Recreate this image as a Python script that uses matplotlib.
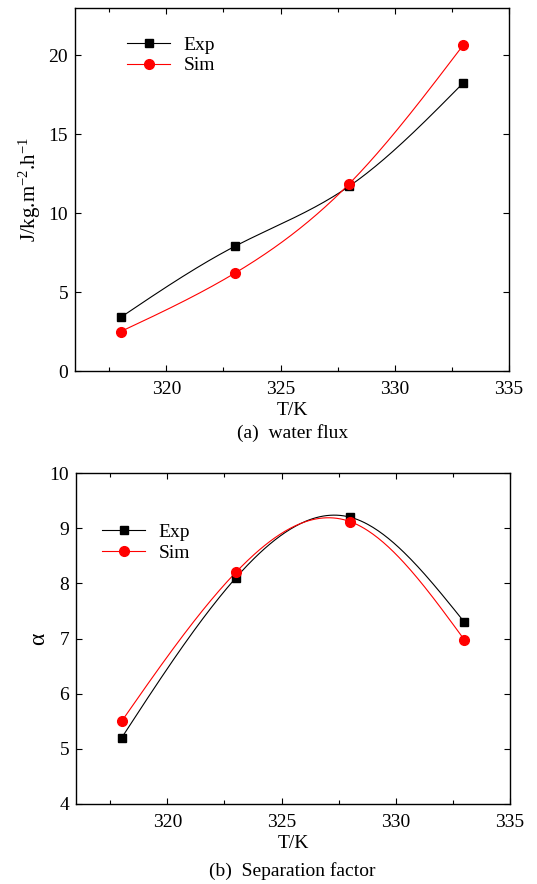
import numpy as np
import matplotlib
matplotlib.use('Agg')
import matplotlib.pyplot as plt

plt.rcParams['font.family'] = ['Liberation Serif', 'DejaVu Serif']
plt.rcParams['mathtext.fontset'] = 'custom'
plt.rcParams['mathtext.rm'] = 'Liberation Serif'
plt.rcParams['mathtext.it'] = 'Liberation Serif:italic'
plt.rcParams['font.size'] = 14

T = [318, 323, 328, 333]
flux_exp = [3.4, 7.9, 11.7, 18.25]
flux_sim = [2.5, 6.2, 11.85, 20.65]
alpha_exp = [5.2, 8.1, 9.2, 7.3]
alpha_sim = [5.5, 8.2, 9.12, 6.98]


def spline(x, y, n=200):
    # natural cubic spline, for the smooth connecting line
    x = np.asarray(x, float)
    y = np.asarray(y, float)
    k = len(x)
    h = np.diff(x)
    A = np.zeros((k, k))
    b = np.zeros(k)
    A[0, 0] = A[-1, -1] = 1
    for i in range(1, k - 1):
        A[i, i - 1] = h[i - 1]
        A[i, i] = 2 * (h[i - 1] + h[i])
        A[i, i + 1] = h[i]
        b[i] = 6 * ((y[i + 1] - y[i]) / h[i] - (y[i] - y[i - 1]) / h[i - 1])
    M = np.linalg.solve(A, b)
    xs = np.linspace(x[0], x[-1], n)
    ys = np.empty_like(xs)
    for j, xv in enumerate(xs):
        i = min(np.searchsorted(x, xv) - 1, k - 2)
        i = max(i, 0)
        t1 = x[i + 1] - xv
        t0 = xv - x[i]
        ys[j] = (M[i] * t1 ** 3 + M[i + 1] * t0 ** 3) / (6 * h[i]) \
            + (y[i] / h[i] - M[i] * h[i] / 6) * t1 \
            + (y[i + 1] / h[i] - M[i + 1] * h[i] / 6) * t0
    return xs, ys


def style(ax):
    ax.set_xlim(316, 335)
    ax.set_xticks([320, 325, 330, 335])
    ax.set_xticks([317.5, 322.5, 327.5, 332.5], minor=True)
    ax.tick_params(which='both', direction='in', labelsize=14)
    ax.tick_params(which='major', length=4, width=0.8)
    ax.tick_params(which='minor', length=3, width=0.8)
    ax.tick_params(which='both', top=True, right=True)
    ax.tick_params(axis='x', which='major', pad=7)
    ax.tick_params(axis='y', which='major', pad=5)
    for s in ax.spines.values():
        s.set_linewidth(1.0)
    ax.set_xlabel('T/K', fontsize=14, labelpad=3)


fig = plt.figure(figsize=(5.37, 8.84), dpi=100)

ax1 = fig.add_axes([0.1397, 0.5803, 0.808, 0.4107])
xs, ys = spline(T, flux_exp)
ax1.plot(xs, ys, color='black', lw=0.8)
xs, ys = spline(T, flux_sim)
ax1.plot(xs, ys, color='red', lw=0.8)
ax1.plot(T, flux_exp, 's', color='black', ms=6)
ax1.plot(T, flux_sim, 'o', color='red', ms=7)
ax1.plot([], [], '-s', color='black', ms=6, lw=0.8, label='Exp')
ax1.plot([], [], '-o', color='red', ms=7, lw=0.8, label='Sim')
ax1.set_ylim(0, 23)
ax1.set_yticks([0, 5, 10, 15, 20])
style(ax1)
ax1.set_ylabel(r'J/kg.m$^{-2}$.h$^{-1}$', fontsize=15, labelpad=4)
ax1.legend(loc='upper left', bbox_to_anchor=(0.08, 0.97), frameon=False,
           fontsize=14, handlelength=2.2, handletextpad=0.7, labelspacing=0.15)

ax2 = fig.add_axes([0.1415, 0.0905, 0.808, 0.3744])
xs, ys = spline(T, alpha_exp)
ax2.plot(xs, ys, color='black', lw=0.8)
xs, ys = spline(T, alpha_sim)
ax2.plot(xs, ys, color='red', lw=0.8)
ax2.plot(T, alpha_exp, 's', color='black', ms=6)
ax2.plot(T, alpha_sim, 'o', color='red', ms=7)
ax2.plot([], [], '-s', color='black', ms=6, lw=0.8, label='Exp')
ax2.plot([], [], '-o', color='red', ms=7, lw=0.8, label='Sim')
ax2.set_ylim(4, 10)
ax2.set_yticks([4, 5, 6, 7, 8, 9, 10])
style(ax2)
ax2.set_ylabel('α', fontsize=17, labelpad=0)
ax2.legend(loc='upper left', bbox_to_anchor=(0.02, 0.9), frameon=False,
           fontsize=14, handlelength=2.2, handletextpad=0.7, labelspacing=0.15)

fig.text(0.5447, 0.510, '(a)  water flux', ha='center', va='center', fontsize=14)
fig.text(0.5447, 0.0147, '(b)  Separation factor', ha='center', va='center', fontsize=14)

fig.savefig('out.png', dpi=100)
